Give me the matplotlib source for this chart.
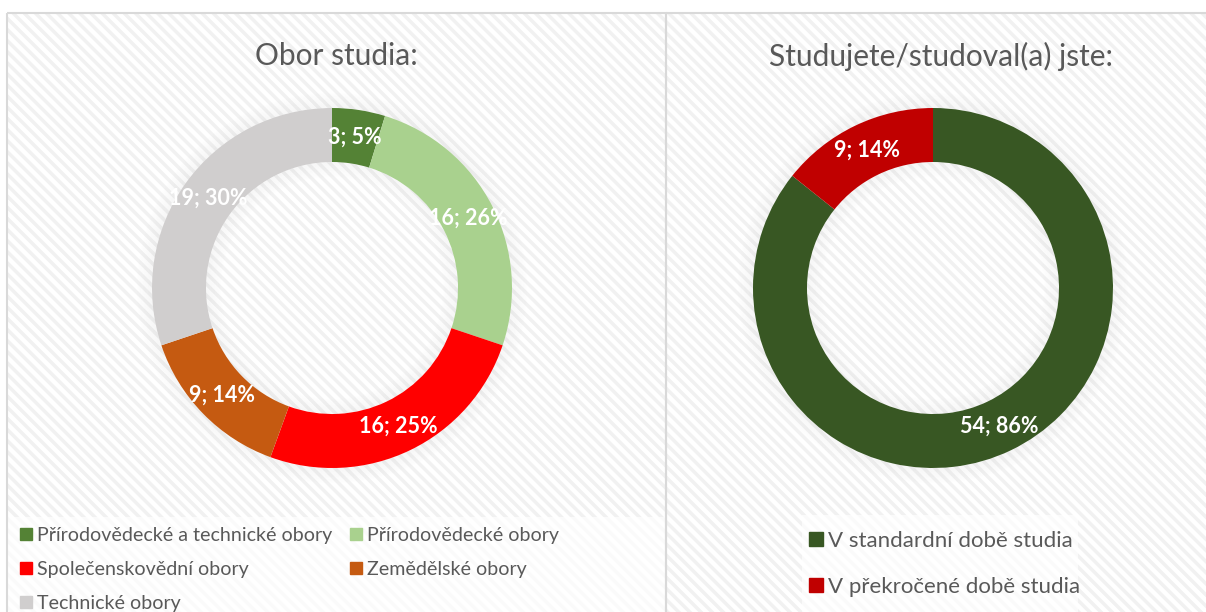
import matplotlib
matplotlib.use("Agg")
import matplotlib.pyplot as plt
from matplotlib.patches import Rectangle, Annulus
from matplotlib.lines import Line2D

# ---- data ----
field_categories = ["Přírodovědecké a technické obory", "Přírodovědecké obory",
                    "Společenskovědní obory", "Zemědělské obory", "Technické obory"]
field_counts = [3, 16, 16, 9, 19]
field_pct_labels = ["5%", "26%", "25%", "14%", "30%"]
field_title = "Obor studia:"

time_categories = ["V standardní době studia", "V překročené době studia"]
time_counts = [54, 9]
time_pct_labels = ["86%", "14%"]
time_title = "Studujete/studoval(a) jste:"

field_colors = ["#548235", "#a9d18e", "#ff0000", "#c55a11", "#d0cece"]
time_colors = ["#385723", "#c00000"]

W, H = 1206, 612
plt.rcParams['font.family'] = ['Lato', 'DejaVu Sans']
plt.rcParams['hatch.linewidth'] = 2.5
fig = plt.figure(figsize=(W / 100, H / 100), dpi=100)
fig.patch.set_facecolor("white")

bg = fig.add_axes([0, 0, 1, 1])
bg.set_xlim(0, W)
bg.set_ylim(H, 0)
bg.axis("off")

hatch_col = "#f1f1f1"
border_col = "#d9d9d9"
for (x0, w) in [(7, 659), (666, 560)]:
    bg.add_patch(Rectangle((x0, 13), w, 620, facecolor="white", edgecolor=hatch_col,
                           hatch="\\\\\\", linewidth=0, zorder=0))
    bg.add_patch(Rectangle((x0, 13), w, 620, facecolor="none", edgecolor=border_col,
                           linewidth=1.5, zorder=3))

# legend backgrounds
bg.add_patch(Rectangle((8, 517), 657, 100, facecolor="white", alpha=0.7,
                       edgecolor="none", zorder=1))
bg.add_patch(Rectangle((802, 515), 276, 100, facecolor="white", alpha=0.7,
                       edgecolor="none", zorder=1))

bg.text(336, 56, field_title, ha="center", va="center", fontsize=21.5, color="#595959")
bg.text(941, 56, time_title, ha="center", va="center", fontsize=21.5, color="#595959")


def donut(cx, cy, r_px, counts, pcts, colors):
    pad = 1.12
    half = r_px * pad
    ax = fig.add_axes([(cx - half) / W, 1 - (cy + half) / H, 2 * half / W, 2 * half / H])
    ax.set_xlim(-pad, pad)
    ax.set_ylim(-pad, pad)
    ax.axis("off")
    # soft shadow
    n = 12
    for i in range(n):
        a = 0.06 * (1 - i / n)
        ax.add_patch(Annulus((0, 0), 1.0 + 0.007 * (i + 1), 0.007, color="#7f7f7f",
                             alpha=a, linewidth=0, zorder=0))
        ax.add_patch(Annulus((0, 0), 0.7 - 0.007 * i, 0.007, color="#7f7f7f",
                             alpha=a, linewidth=0, zorder=0))
    labels_iter = iter([f"{c}; {p}" for c, p in zip(counts, pcts)])
    wedges, _, autotexts = ax.pie(counts, colors=colors, startangle=90, counterclock=False,
                                  radius=1.0, wedgeprops=dict(width=0.3, linewidth=0),
                                  autopct=lambda p: next(labels_iter), pctdistance=0.85)
    for t in autotexts:
        t.set_color("white")
        t.set_fontweight("bold")
        t.set_fontsize(15.5)
    ax.set_xlim(-pad, pad)
    ax.set_ylim(-pad, pad)
    return wedges


w1 = donut(332, 288, 180, field_counts, field_pct_labels, field_colors)
w2 = donut(933, 288, 180, time_counts, time_pct_labels, time_colors)

def handles(colors, size):
    return [Line2D([], [], marker="s", linestyle="none", markersize=size,
                   markerfacecolor=c, markeredgecolor=c) for c in colors]

# row-major order for a 2-column legend (matplotlib fills column-major)
order = [0, 2, 4, 1, 3]
h1 = handles(field_colors, 8)
leg1 = fig.legend([h1[i] for i in order], [field_categories[i] for i in order], ncol=2,
                  loc="upper left", bbox_to_anchor=(21 / W, 1 - 527 / H),
                  frameon=False, fontsize=14.1, labelcolor="#595959",
                  handlelength=0.5, handletextpad=0.3, columnspacing=1.0,
                  labelspacing=0.86, borderpad=0, borderaxespad=0)
leg2 = fig.legend(handles(time_colors, 10), time_categories, ncol=1,
                  loc="upper left", bbox_to_anchor=(810 / W, 1 - 531 / H),
                  frameon=False, fontsize=16, labelcolor="#595959",
                  handlelength=0.5, handletextpad=0.3,
                  labelspacing=1.15, borderpad=0, borderaxespad=0)

fig.savefig("out.png", dpi=100, facecolor="white")
